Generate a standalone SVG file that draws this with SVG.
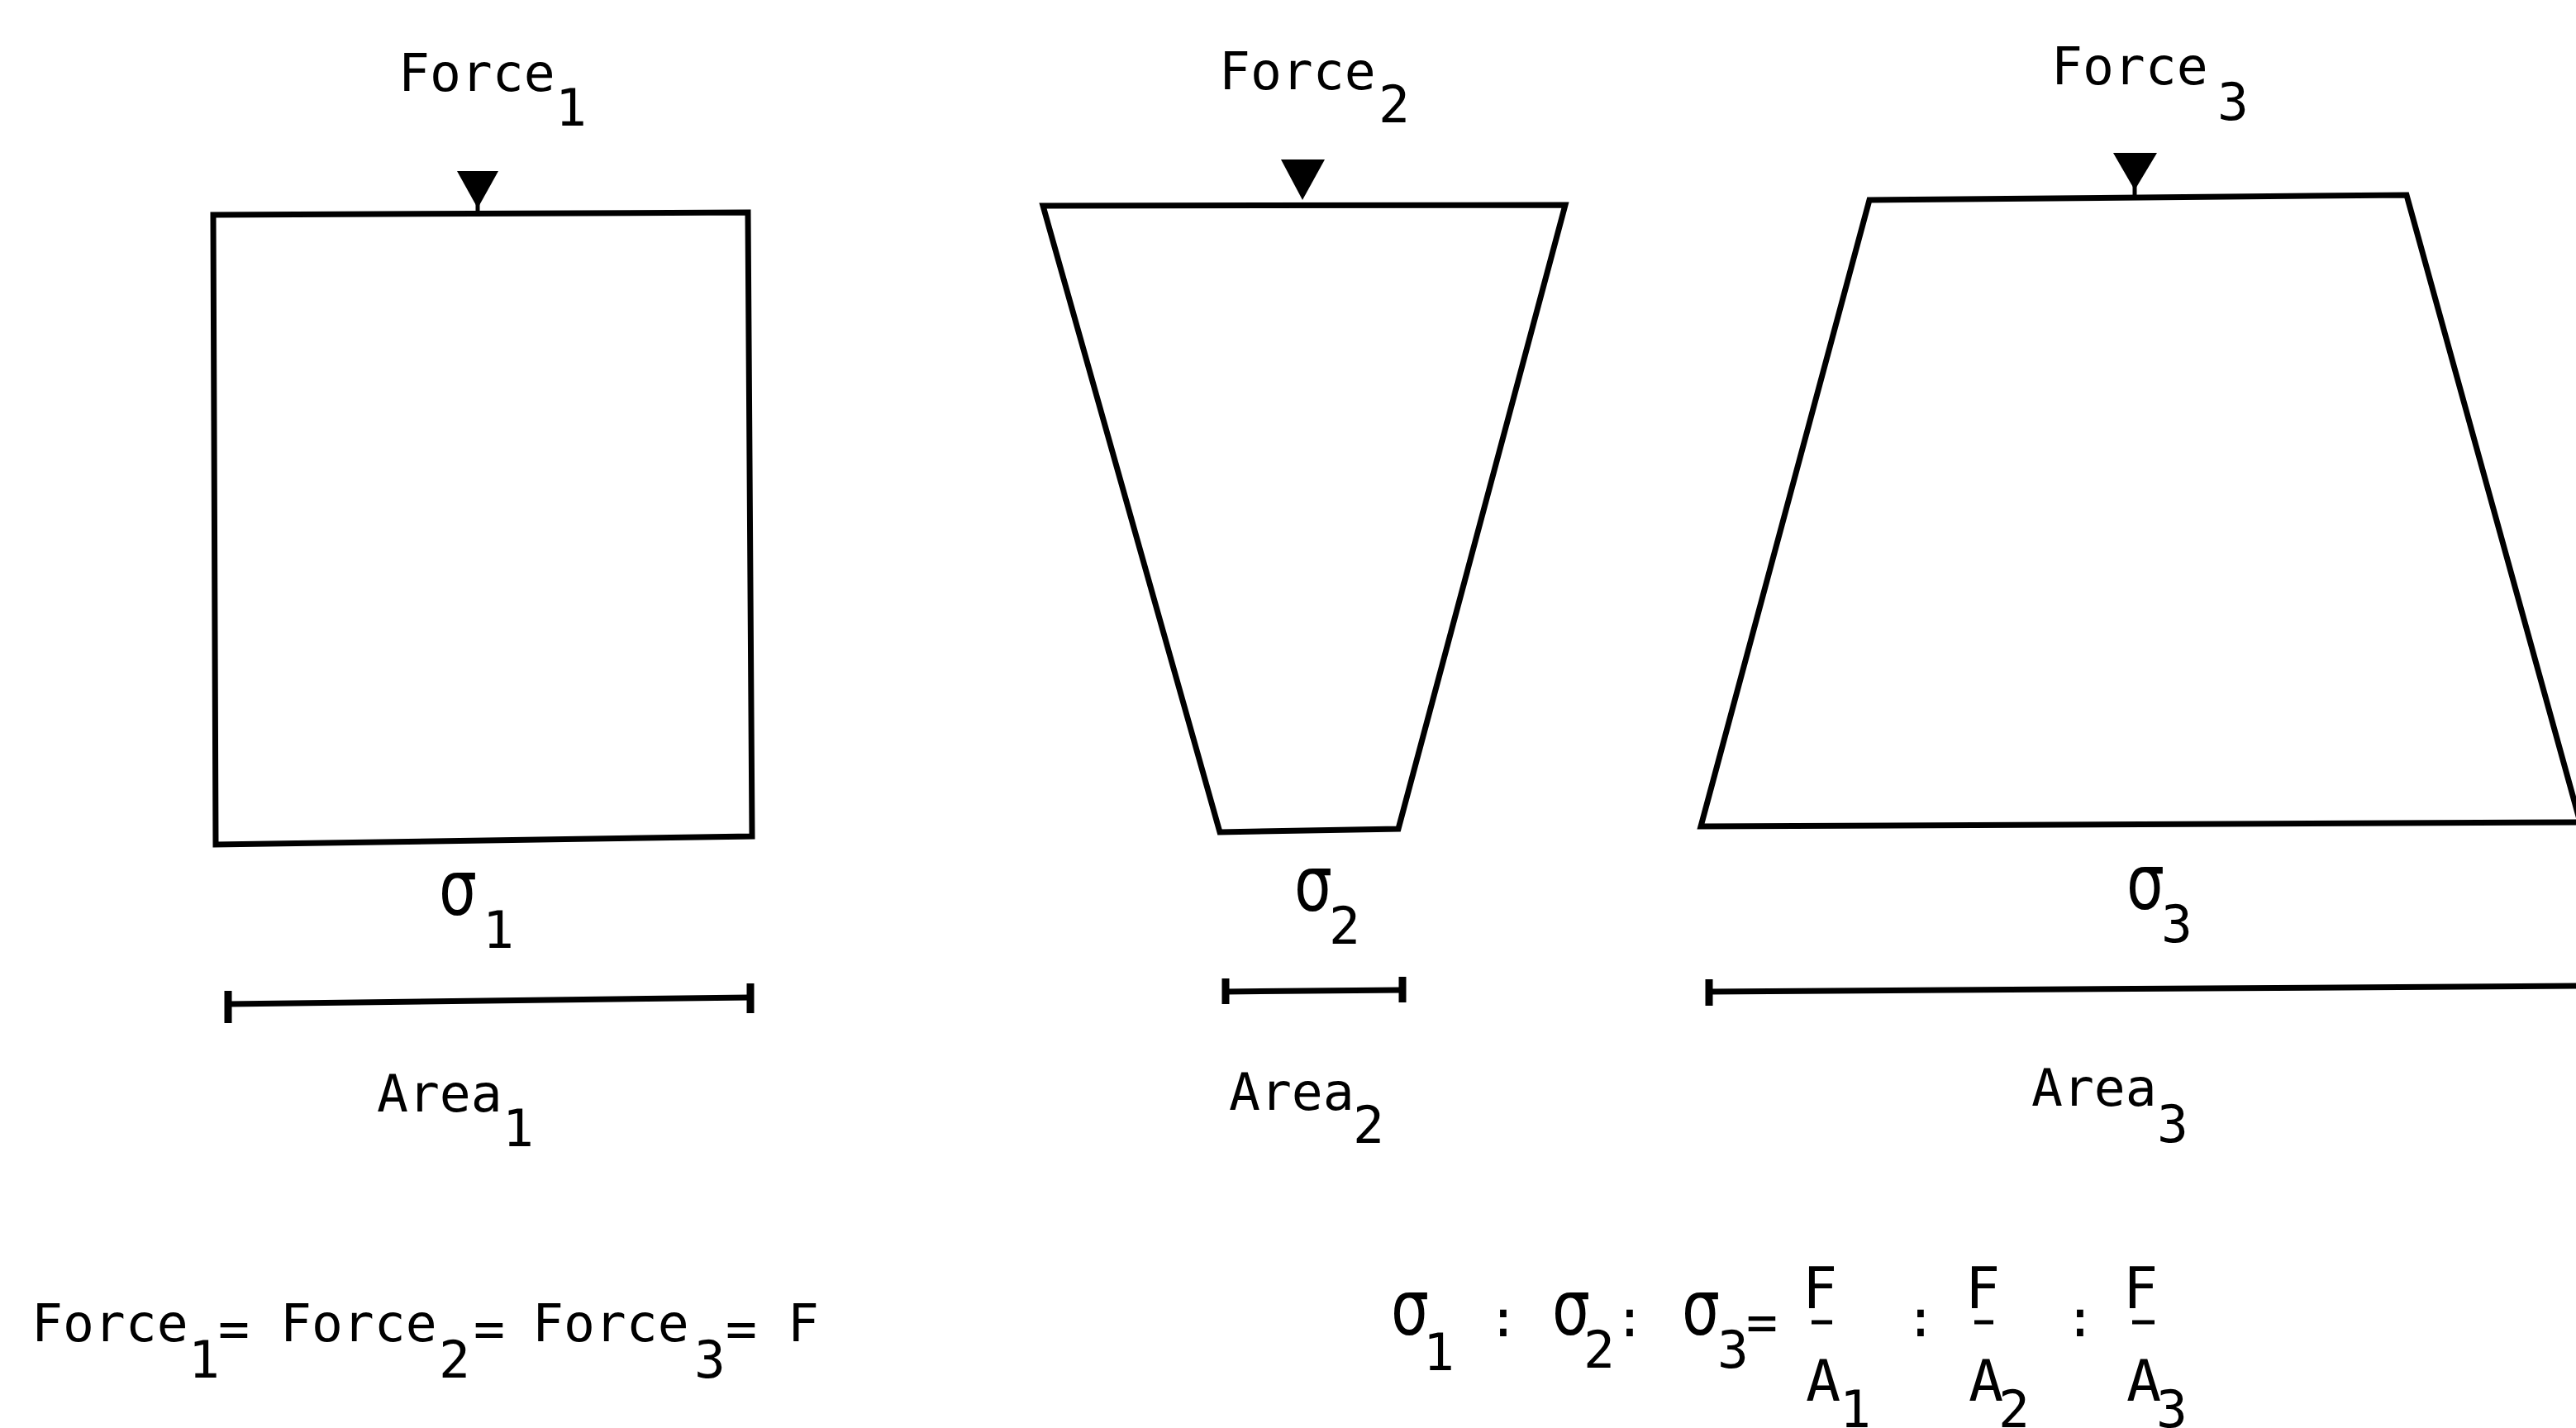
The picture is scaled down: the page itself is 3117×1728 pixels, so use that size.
<svg xmlns="http://www.w3.org/2000/svg" width="3117" height="1728" viewBox="0 0 3117 1728">
<style>
.t{font-family:"DejaVu Sans Mono","Liberation Mono",monospace;font-size:63px;fill:#000}
.b{font-family:"DejaVu Sans Mono","Liberation Mono",monospace;font-size:70px;fill:#000}
.s{font-family:"DejaVu Sans","Liberation Sans",sans-serif;font-size:92px;fill:#000}
.shape{fill:none;stroke:#000;stroke-width:7;stroke-linejoin:miter}
.bar{stroke:#000;stroke-width:7;fill:none}
.tick{stroke:#000;stroke-width:9}
.frac{stroke:#000;stroke-width:5}
.head{fill:#000}
.stem{stroke:#000;stroke-width:5}
</style>
<rect width="3117" height="1728" fill="#fff"/>

<g id="node1">
  <text class="t" x="482" y="110">Force</text>
  <text class="t" x="672" y="152">1</text>
  <polygon class="shape" points="258,260 905,257 910,1012 261,1022"/>
  <text class="s" x="531" y="1107" textLength="46" lengthAdjust="spacingAndGlyphs">σ</text>
  <text class="t" x="584" y="1147">1</text>
  <line class="bar" x1="276" y1="1215" x2="908" y2="1207"/>
  <line class="tick" x1="276" y1="1199" x2="276" y2="1238"/>
  <line class="tick" x1="908" y1="1190" x2="908" y2="1226"/>
  <text class="t" x="456" y="1345">Area</text>
  <text class="t" x="608" y="1387">1</text>
</g>

<g id="node2">
  <text class="t" x="1475" y="108">Force</text>
  <text class="t" x="1668" y="148">2</text>
  <polygon class="shape" points="1262,249 1894,248 1692,1003 1476,1007"/>
  <text class="s" x="1566" y="1102" textLength="46" lengthAdjust="spacingAndGlyphs">σ</text>
  <text class="t" x="1608" y="1142">2</text>
  <line class="bar" x1="1483" y1="1200" x2="1697" y2="1198"/>
  <line class="tick" x1="1483" y1="1184" x2="1483" y2="1215"/>
  <line class="tick" x1="1697" y1="1182" x2="1697" y2="1213"/>
  <text class="t" x="1487" y="1343">Area</text>
  <text class="t" x="1637" y="1383">2</text>
</g>

<g id="node3">
  <text class="t" x="2482" y="102">Force</text>
  <text class="t" x="2683" y="145">3</text>
  <polygon class="shape" points="2262,242 2912,236 3122,995 2058,1000"/>
  <text class="s" x="2573" y="1100" textLength="46" lengthAdjust="spacingAndGlyphs">σ</text>
  <text class="t" x="2615" y="1140">3</text>
  <line class="bar" x1="2068" y1="1200" x2="3117" y2="1193"/>
  <line class="tick" x1="2068" y1="1185" x2="2068" y2="1217"/>
  <text class="t" x="2458" y="1338">Area</text>
  <text class="t" x="2610" y="1382">3</text>
</g>

<g id="connectors">
  <polygon class="head" points="553,207 603,207 578,252"/>
  <line class="stem" x1="578" y1="244" x2="578" y2="260"/>
  <polygon class="head" points="1550,193 1603,193 1576,242"/>
  <polygon class="head" points="2557,185 2610,185 2583,230"/>
  <line class="stem" x1="2583" y1="222" x2="2583" y2="238"/>
</g>

<g id="equation-forces">
  <text class="t" x="38" y="1623">Force</text>
  <text class="t" x="228" y="1667">1</text>
  <text class="t" x="264" y="1630">=</text>
  <text class="t" x="339" y="1623">Force</text>
  <text class="t" x="531" y="1667">2</text>
  <text class="t" x="573" y="1630">=</text>
  <text class="t" x="644" y="1623">Force</text>
  <text class="t" x="840" y="1667">3</text>
  <text class="t" x="878" y="1630">=</text>
  <text class="t" x="953" y="1623">F</text>
</g>

<g id="equation-stress">
  <text class="s" x="1683" y="1615" textLength="46" lengthAdjust="spacingAndGlyphs">σ</text>
  <text class="t" x="1722" y="1658">1</text>
  <text class="t" x="1800" y="1617">:</text>
  <text class="s" x="1878" y="1615" textLength="46" lengthAdjust="spacingAndGlyphs">σ</text>
  <text class="t" x="1916" y="1655">2</text>
  <text class="t" x="1953" y="1617">:</text>
  <text class="s" x="2035" y="1615" textLength="46" lengthAdjust="spacingAndGlyphs">σ</text>
  <text class="t" x="2078" y="1655">3</text>
  <text class="t" x="2113" y="1622">=</text>
  <text class="b" x="2181" y="1583">F</text>
  <line class="frac" x1="2192" y1="1600" x2="2217" y2="1600"/>
  <text class="b" x="2185" y="1695">A</text>
  <text class="t" x="2226" y="1727">1</text>
  <text class="t" x="2305" y="1617">:</text>
  <text class="b" x="2378" y="1583">F</text>
  <line class="frac" x1="2389" y1="1600" x2="2412" y2="1600"/>
  <text class="b" x="2382" y="1695">A</text>
  <text class="t" x="2418" y="1727">2</text>
  <text class="t" x="2498" y="1617">:</text>
  <text class="b" x="2569" y="1583">F</text>
  <line class="frac" x1="2580" y1="1600" x2="2607" y2="1600"/>
  <text class="b" x="2573" y="1695">A</text>
  <text class="t" x="2609" y="1727">3</text>
</g>
</svg>
